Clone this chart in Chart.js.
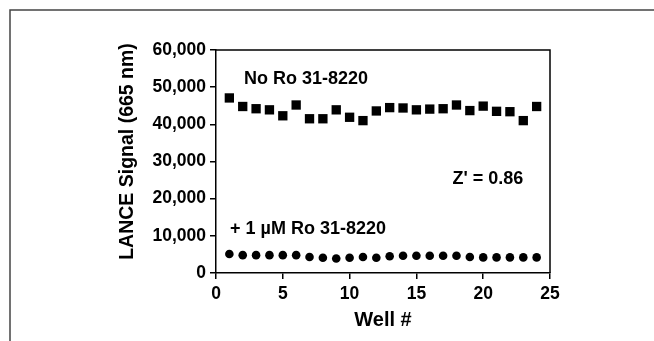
<!DOCTYPE html>
<html>
<head>
<meta charset="utf-8">
<script src="https://cdn.jsdelivr.net/npm/chart.js@4/dist/chart.umd.min.js"></script>
<style>
  html, body { margin: 0; padding: 0; background: #fff; }
  canvas { display: block; }
</style>
</head>
<body>
<canvas id="wellChart" width="654" height="341"></canvas>
<script>
(function () {
  "use strict";

  // values
  const wells = [1, 2, 3, 4, 5, 6, 7, 8, 9, 10, 11, 12, 13, 14, 15, 16, 17, 18, 19, 20, 21, 22, 23, 24];
  const noInhibitor = [47100, 44800, 44200, 43900, 42300, 45200, 41500, 41500, 43900, 41900, 41000, 43600,
                       44500, 44400, 43900, 44100, 44200, 45200, 43700, 44900, 43500, 43400, 41000, 44800];
  const withInhibitor = [5100, 4800, 4800, 4800, 4800, 4800, 4300, 4100, 3900, 4100, 4300, 4100,
                         4500, 4650, 4650, 4650, 4650, 4650, 4300, 4200, 4200, 4200, 4200, 4200];
  const xTicks = [0, 5, 10, 15, 20, 25];
  const yTicks = [0, 10000, 20000, 30000, 40000, 50000, 60000];

  const FONT = "'Liberation Sans', Arial, Helvetica, sans-serif";

  function toPoints(values) {
    return wells.map(function (w, i) { return { x: w, y: values[i] }; });
  }

  // text labels placed in data units
  const notes = [
    { text: "No Ro 31-8220", x: 2.1, y: 52300 },
    { text: "+ 1 \u00b5M Ro 31-8220", x: 1.05, y: 11800 },
    { text: "Z' = 0.86", x: 17.7, y: 25300 }
  ];

  const decor = {
    id: "decor",
    afterDraw(chart) {
      const ctx = chart.ctx;
      const a = chart.chartArea;
      ctx.save();

      // outer frame (top and left only)
      ctx.strokeStyle = "#444";
      ctx.lineWidth = 1.5;
      ctx.beginPath();
      ctx.moveTo(chart.width, 10);
      ctx.lineTo(10, 10);
      ctx.lineTo(10, chart.height);
      ctx.stroke();

      // top and right of plot box
      ctx.strokeStyle = "#000";
      ctx.lineWidth = 1.5;
      ctx.beginPath();
      ctx.moveTo(a.left, a.top);
      ctx.lineTo(a.right, a.top);
      ctx.lineTo(a.right, a.bottom);
      ctx.stroke();

      // notes
      ctx.fillStyle = "#000";
      ctx.font = "bold 18px " + FONT;
      ctx.textAlign = "left";
      ctx.textBaseline = "middle";
      notes.forEach(function (n) {
        ctx.fillText(n.text, chart.scales.x.getPixelForValue(n.x), chart.scales.y.getPixelForValue(n.y));
      });

      // y title, sits a little above the axis middle
      ctx.font = "bold 19.5px " + FONT;
      ctx.textAlign = "center";
      ctx.translate(128, (a.top + a.bottom) / 2 - 10);
      ctx.rotate(-Math.PI / 2);
      ctx.fillText("LANCE Signal (665 nm)", 0, 0);
      ctx.restore();
    }
  };

  new Chart(document.getElementById("wellChart"), {
    type: "scatter",
    data: {
      datasets: [
        {
          label: "No Ro 31-8220",
          data: toPoints(noInhibitor),
          pointStyle: "rect",
          pointRadius: 6.6,
          borderWidth: 0,
          backgroundColor: "#000",
          borderColor: "#000"
        },
        {
          label: "+ 1 \u00b5M Ro 31-8220",
          data: toPoints(withInhibitor),
          pointStyle: "circle",
          pointRadius: 4.3,
          borderWidth: 0,
          backgroundColor: "#000",
          borderColor: "#000"
        }
      ]
    },
    options: {
      responsive: false,
      animation: false,
      events: [],
      layout: { padding: { left: 0, right: 104, top: 50, bottom: 0 } },
      plugins: { legend: { display: false }, tooltip: { enabled: false } },
      scales: {
        x: {
          type: "linear",
          min: 0,
          max: 25,
          afterFit(s) { s.height = 68; },
          afterBuildTicks(s) { s.ticks = xTicks.map(function (v) { return { value: v }; }); },
          border: { color: "#000", width: 1.5 },
          grid: { drawOnChartArea: false, color: "#000", lineWidth: 1.5, tickLength: 6 },
          ticks: { color: "#000", padding: 5, font: { family: FONT, size: 17.5, weight: "bold" } },
          title: {
            display: true,
            text: "Well #",
            color: "#000",
            padding: { top: 0, bottom: 9 },
            font: { family: FONT, size: 20, weight: "bold" }
          }
        },
        y: {
          min: 0,
          max: 60000,
          afterFit(s) { s.width = 216; },
          afterBuildTicks(s) { s.ticks = yTicks.map(function (v) { return { value: v }; }); },
          border: { color: "#000", width: 1.5 },
          grid: { drawOnChartArea: false, color: "#000", lineWidth: 1.5, tickLength: 6 },
          ticks: {
            color: "#000",
            padding: 4,
            font: { family: FONT, size: 17.5, weight: "bold" },
            callback: function (v) { return v.toLocaleString("en-US"); }
          }
        }
      }
    },
    plugins: [decor]
  });
})();
</script>
</body>
</html>
